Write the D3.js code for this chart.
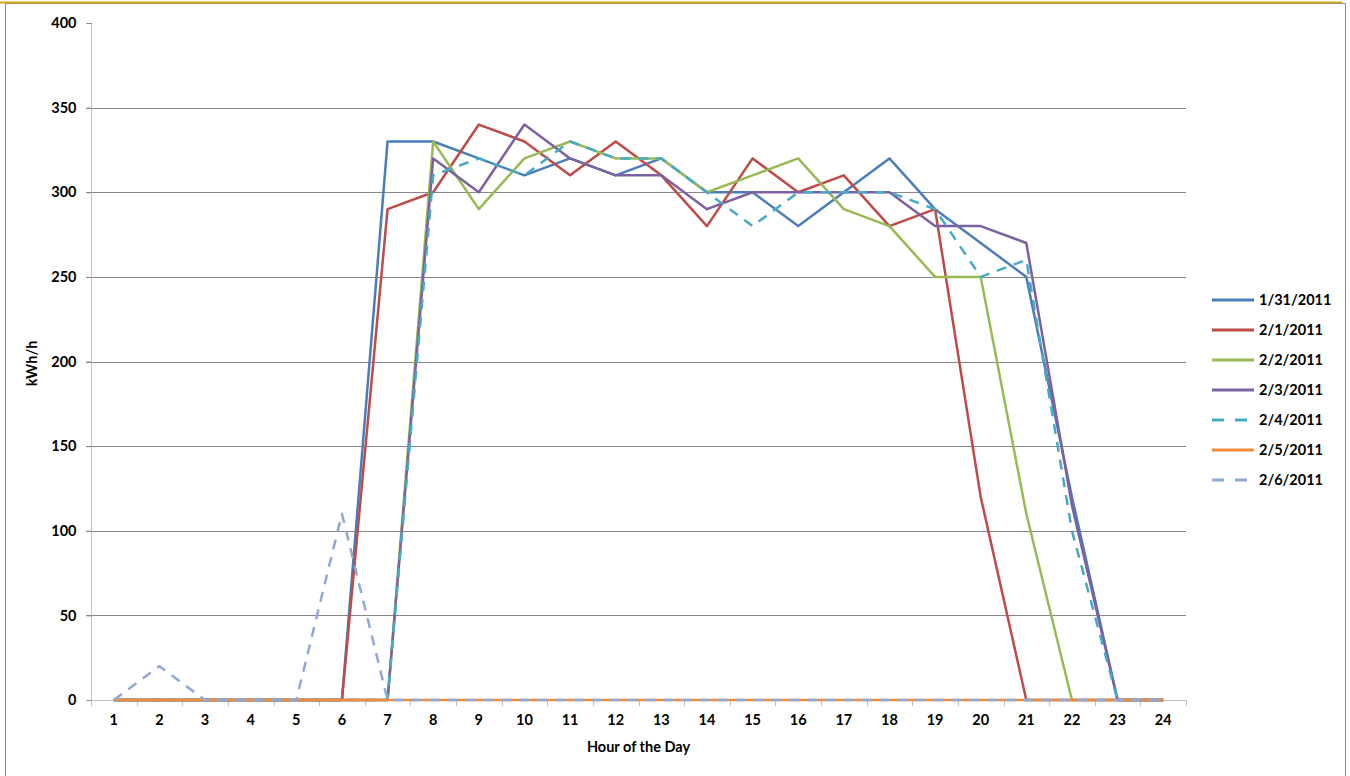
<!DOCTYPE html>
<html>
<head>
<meta charset="utf-8">
<script src="https://cdn.jsdelivr.net/npm/d3@7"></script>
<style>
  body { margin: 0; background: #fff; }
  svg text { font-family: Lato, "Open Sans", sans-serif; font-weight: bold; fill: #000; }
</style>
</head>
<body>
<svg id="chart" width="1350" height="776"></svg>
<script>
// hours on the category axis
var hours = d3.range(1, 25);
var yTicks = [0, 50, 100, 150, 200, 250, 300, 350, 400];

// kWh/h for each day, one value per hour
var jan31 = [0, 0, 0, 0, 0, 0, 330, 330, 320, 310, 320, 310, 320, 300, 300, 280, 300, 320, 290, 270, 250, 120, 0, 0];
var feb1  = [0, 0, 0, 0, 0, 0, 290, 300, 340, 330, 310, 330, 310, 280, 320, 300, 310, 280, 290, 120, 0, 0, 0, 0];
var feb2  = [0, 0, 0, 0, 0, 0, 0, 330, 290, 320, 330, 320, 320, 300, 310, 320, 290, 280, 250, 250, 110, 0, 0, 0];
var feb3  = [0, 0, 0, 0, 0, 0, 0, 320, 300, 340, 320, 310, 310, 290, 300, 300, 300, 300, 280, 280, 270, 115, 0, 0];
var feb4  = [0, 0, 0, 0, 0, 0, 0, 310, 320, 310, 330, 320, 320, 300, 280, 300, 300, 300, 290, 250, 260, 100, 0, 0];
var feb5  = [0, 0, 0, 0, 0, 0, 0, 0, 0, 0, 0, 0, 0, 0, 0, 0, 0, 0, 0, 0, 0, 0, 0, 0];
var feb6  = [0, 20, 0, 0, 0, 110, 0, 0, 0, 0, 0, 0, 0, 0, 0, 0, 0, 0, 0, 0, 0, 0, 0, 0];

var seriesNames = ["1/31/2011", "2/1/2011", "2/2/2011", "2/3/2011", "2/4/2011", "2/5/2011", "2/6/2011"];
var seriesValues = [jan31, feb1, feb2, feb3, feb4, feb5, feb6];
var seriesColors = ["#4a7ebb", "#be4b48", "#98b954", "#7d60a0", "#46aac5", "#f08a3c", "#8ea9d6"];
var seriesDash = [null, null, null, null, "10,8", null, "10,8"];

var svg = d3.select("#chart");
var plotLeft = 91, plotRight = 1186, plotTop = 23, plotBottom = 700;

var x = d3.scaleBand().domain(hours).range([plotLeft, plotRight]).paddingInner(0).paddingOuter(0);
var y = d3.scaleLinear().domain([0, 400]).range([plotBottom, plotTop]);

// outer frame
svg.append("rect")
  .attr("x", 5.5).attr("y", 3.5)
  .attr("width", 1340).attr("height", 790)
  .style("fill", "none").style("stroke", "#8c8c8c");
svg.append("line")
  .attr("x1", 0).attr("x2", 1342).attr("y1", 2.5).attr("y2", 2.5)
  .style("stroke", "#d9a424").style("stroke-width", 2);

// gridlines
svg.append("g").selectAll("line")
  .data(yTicks.filter(function(d){ return d > 0 && d < 400; }))
  .enter().append("line")
  .attr("x1", plotLeft - 5).attr("x2", plotRight)
  .attr("y1", function(d){ return Math.round(y(d)) + 0.5; })
  .attr("y2", function(d){ return Math.round(y(d)) + 0.5; })
  .style("stroke", "#868686").style("stroke-width", 1);

// y axis
var yAxis = svg.append("g")
  .attr("transform", "translate(" + (plotLeft + 0.5) + ",0)")
  .call(d3.axisLeft(y).tickValues(yTicks).tickSize(5).tickPadding(10));
yAxis.select(".domain").attr("d", "M0," + plotTop + "V" + plotBottom).style("stroke", "#bfbfbf");
yAxis.selectAll(".tick line").style("stroke", "#868686");
yAxis.selectAll("text").style("font-size", "14.5px");

// x axis
var xAxis = svg.append("g")
  .attr("transform", "translate(0," + (plotBottom + 0.5) + ")")
  .call(d3.axisBottom(x).tickSize(0).tickPadding(14));
xAxis.select(".domain").attr("d", "M" + plotLeft + ",0H" + plotRight).style("stroke", "#bfbfbf");
xAxis.selectAll("text").style("font-size", "14.5px");
svg.append("g").selectAll("line")
  .data(hours.concat([25]))
  .enter().append("line")
  .attr("x1", function(d){ return Math.round(d > 24 ? plotRight : x(d)) + 0.5; })
  .attr("x2", function(d){ return Math.round(d > 24 ? plotRight : x(d)) + 0.5; })
  .attr("y1", plotBottom).attr("y2", plotBottom + 6)
  .style("stroke", "#bfbfbf");

// axis titles
svg.append("text")
  .attr("x", (plotLeft + plotRight) / 2).attr("y", 752)
  .attr("text-anchor", "middle")
  .style("font-size", "14.5px")
  .text("Hour of the Day");
svg.append("text")
  .attr("transform", "translate(37," + ((plotTop + plotBottom) / 2 + 2) + ") rotate(-90)")
  .attr("text-anchor", "middle")
  .style("font-size", "14.5px")
  .text("kWh/h");

// series lines
var line = d3.line()
  .x(function(d, i){ return x(hours[i]) + x.bandwidth() / 2; })
  .y(function(d){ return y(d); });

seriesValues.forEach(function(vals, i){
  svg.append("path")
    .datum(vals)
    .attr("d", line)
    .style("fill", "none")
    .style("stroke", seriesColors[i])
    .style("stroke-width", 2.5)
    .style("stroke-linejoin", "round")
    .style("stroke-dasharray", seriesDash[i]);
});

// legend
var legend = svg.append("g");
seriesNames.forEach(function(name, i){
  var ly = 300 + i * 30;
  legend.append("line")
    .attr("x1", 1212).attr("x2", 1254)
    .attr("y1", ly).attr("y2", ly)
    .style("stroke", seriesColors[i])
    .style("stroke-width", 3)
    .style("stroke-dasharray", seriesDash[i] ? "12,11" : null);
  legend.append("text")
    .attr("x", 1259).attr("y", ly + 5)
    .style("font-size", "14.5px")
    .text(name);
});
</script>
</body>
</html>
